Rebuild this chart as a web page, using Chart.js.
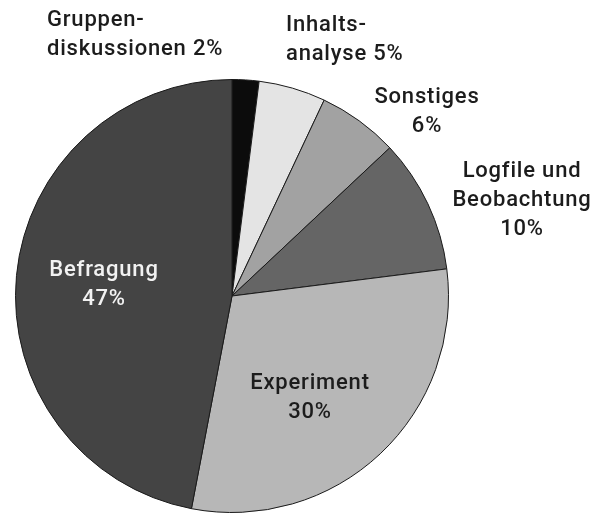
<!DOCTYPE html>
<html>
<head>
<meta charset="utf-8">
<script src="https://cdn.jsdelivr.net/npm/chart.js@4"></script>
<style>
html,body{margin:0;padding:0;background:#fff;}
#wrap{width:596px;height:513px;position:relative;}
</style>
</head>
<body>
<div id="wrap"><canvas id="c" width="596" height="513"></canvas></div>
<script>
const categories = ["Gruppendiskussionen", "Inhaltsanalyse", "Sonstiges", "Logfile und Beobachtung", "Experiment", "Befragung"];
const shares = [2, 5, 6, 10, 30, 47];
const labelLines = [
  ["Gruppen-", "diskussionen 2%"],
  ["Inhalts-", "analyse 5%"],
  ["Sonstiges", "6%"],
  ["Logfile und", "Beobachtung", "10%"],
  ["Experiment", "30%"],
  ["Befragung", "47%"]
];
const sliceColors = ["#0c0c0c", "#e4e4e4", "#a2a2a2", "#656565", "#b7b7b7", "#444444"];

// label placement relative to pie centre (dx, dy of first line), alignment, colour
const labelStyle = [
  {dx: -185, dy: -276, align: "left", color: "#1c1c1c"},
  {dx: 54, dy: -271, align: "left", color: "#1c1c1c"},
  {dx: 195, dy: -199, align: "center", color: "#1c1c1c"},
  {dx: 290, dy: -125, align: "center", color: "#1c1c1c"},
  {dx: 78, dy: 87, align: "center", color: "#1c1c1c"},
  {dx: -128, dy: -26, align: "center", color: "#f2f2f2"}
];
const lineGap = 29;

const labelPlugin = {
  id: "sliceLabels",
  afterDatasetsDraw(chart) {
    const ctx = chart.ctx;
    const arc = chart.getDatasetMeta(0).data[0];
    const cx = arc.x, cy = arc.y;
    ctx.save();
    ctx.font = "500 22px Roboto";
    ctx.letterSpacing = "0.8px";
    ctx.textBaseline = "middle";
    labelLines.forEach((lines, i) => {
      const s = labelStyle[i];
      ctx.fillStyle = s.color;
      ctx.textAlign = s.align;
      lines.forEach((t, j) => {
        ctx.fillText(t, cx + s.dx, cy + s.dy + j * lineGap);
      });
    });
    ctx.restore();
  }
};

new Chart(document.getElementById("c"), {
  type: "pie",
  data: {
    labels: categories,
    datasets: [{
      data: shares,
      backgroundColor: sliceColors,
      borderColor: "#1a1a1a",
      borderWidth: 1,
      hoverOffset: 0
    }]
  },
  options: {
    responsive: false,
    animation: false,
    layout: {padding: {left: 15, right: 147, top: 79, bottom: 0}},
    plugins: {legend: {display: false}, tooltip: {enabled: false}}
  },
  plugins: [labelPlugin]
});
</script>
</body>
</html>
